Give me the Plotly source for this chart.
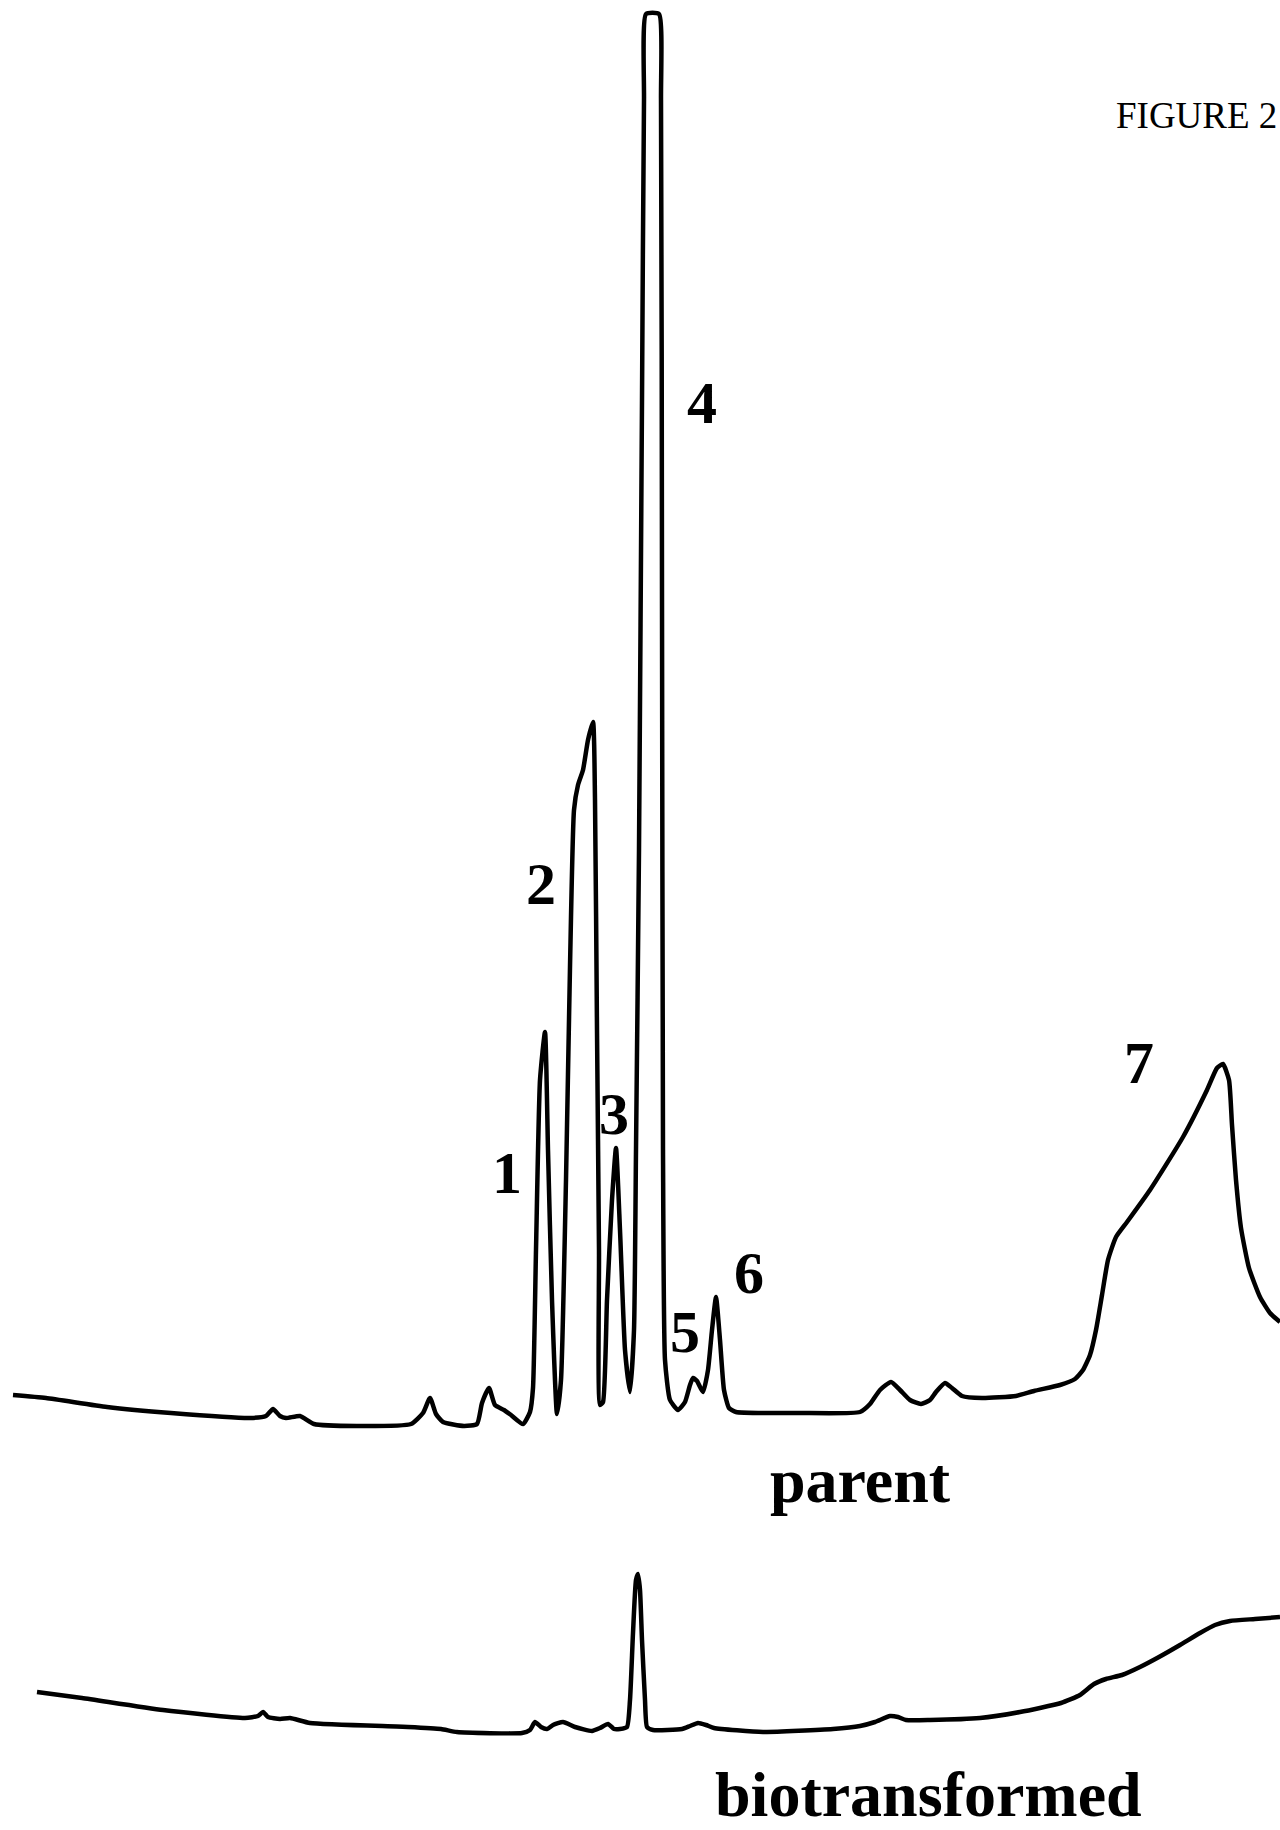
import plotly.graph_objects as go

# Retention time (arbitrary units) and detector response (arbitrary units)
parent_time = [1.3, 4.6, 10.7, 17.1, 25.0, 26.6, 27.3, 28.0, 28.6, 30.0, 31.4, 35.7, 41.1, 42.3, 43.0,
               43.6, 44.3, 46.4, 47.7, 48.2, 48.9, 49.5, 50.4, 51.1, 52.3, 53.0, 53.3, 53.6, 54.0, 54.5,
               54.8, 55.2, 55.7, 56.1, 56.6, 57.0, 57.4, 57.8, 58.3, 58.8, 59.3, 59.5, 59.7, 59.9, 60.0,
               60.3, 60.7, 61.2, 61.6, 62.0, 62.5, 63.0, 63.4, 63.6, 63.9, 64.2, 64.4, 64.6, 65.9, 66.1,
               66.2, 66.3, 66.5, 67.0, 67.8, 68.5, 69.0, 69.3, 69.7, 70.3, 70.8, 71.2, 71.6, 72.0, 72.4,
               72.9, 73.6, 80.0, 86.0, 87.0, 88.0, 89.1, 90.0, 91.0, 92.1, 93.0, 93.6, 94.5, 95.2, 96.2,
               98.2, 101.6, 103.4, 106.0, 107.5, 108.3, 109.0, 109.6, 110.2, 110.8, 111.6, 112.7, 115.0,
               118.3, 120.7, 121.7, 122.3, 122.9, 123.2, 123.6, 124.1, 124.9, 126.0, 127.0, 128.0]
parent_signal = [43.5, 43.2, 42.3, 41.7, 41.2, 41.4, 42.1, 41.4, 41.2, 41.4, 40.6, 40.4, 40.6, 41.7, 43.2,
                 41.6, 40.8, 40.4, 40.6, 42.7, 44.2, 42.5, 42.0, 41.5, 40.6, 41.8, 44.2, 58.0, 75.0, 79.8,
                 68.0, 53.0, 41.6, 45.0, 65.0, 86.3, 102.0, 104.5, 106.0, 109.0, 110.8, 103.0, 80.0, 58.0, 42.5,
                 42.8, 53.0, 63.0, 68.2, 60.0, 48.0, 43.8, 50.0, 68.0, 98.0, 143.0, 173.0, 181.6, 181.6, 173.0,
                 123.0, 68.0, 47.0, 43.0, 42.0, 42.8, 44.5, 45.2, 44.9, 43.8, 46.0, 50.0, 53.3, 49.0, 44.0,
                 42.2, 41.8, 41.7, 41.8, 42.6, 44.0, 44.8, 44.0, 43.0, 42.6, 43.0, 43.8, 44.7, 44.2, 43.4,
                 43.2, 43.4, 43.9, 44.5, 45.1, 46.0, 47.5, 50.0, 53.5, 57.0, 59.3, 60.8, 64.0,
                 69.3, 74.0, 76.2, 76.6, 75.0, 70.5, 65.0, 60.2, 56.2, 53.3, 51.7, 50.8]

bio_time = [3.7, 8.2, 16.3, 24.5, 25.8, 26.3, 26.8, 28.0, 29.0, 31.0, 40.8, 44.1, 45.7, 52.2, 53.0,
            53.5, 54.1, 54.7, 55.3, 56.3, 57.5, 59.2, 60.0, 60.8, 61.4, 62.0, 62.7, 63.0, 63.3, 63.6,
            63.8, 64.0, 64.2, 64.5, 64.7, 65.3, 68.2, 69.0, 69.8, 70.6, 71.4, 76.3, 83.3, 86.0, 87.5,
            89.0, 89.8, 90.6, 93.0, 98.0, 102.0, 106.1, 108.0, 109.4, 110.6, 112.2, 114.0, 115.9, 118.0,
            120.0, 121.5, 123.0, 125.5, 128.0]
bio_signal = [13.8, 13.2, 12.0, 11.2, 11.4, 11.8, 11.3, 11.1, 11.2, 10.7, 10.3, 10.1, 9.8, 9.7, 10.0,
              10.8, 10.3, 10.1, 10.5, 10.8, 10.3, 9.9, 10.2, 10.6, 10.1, 10.1, 10.3, 13.0, 19.7, 25.0,
              25.6, 24.0, 19.0, 13.0, 10.3, 10.0, 10.1, 10.4, 10.7, 10.5, 10.2, 9.8, 10.1, 10.4, 10.8,
              11.4, 11.3, 11.0, 11.0, 11.2, 11.8, 12.7, 13.5, 14.6, 15.1, 15.5, 16.3, 17.3, 18.5,
              19.7, 20.5, 20.9, 21.1, 21.3]

# Peak labels and their positions
peak_labels = ["1", "2", "3", "4", "5", "6", "7"]
peak_label_time = [50.7, 54.1, 61.4, 70.2, 68.5, 74.9, 113.9]
peak_label_signal = [65.7, 94.6, 71.6, 142.7, 49.8, 55.7, 76.7]

trace_names = ["parent", "biotransformed"]
trace_name_time = [86.0, 92.8]
trace_name_signal = [35.0, 3.6]

figure_title = "FIGURE 2"

fig = go.Figure()
fig.add_trace(go.Scatter(x=parent_time, y=parent_signal, mode="lines", name="parent",
                         line=dict(color="black", width=4.5, shape="spline", smoothing=0.5),
                         hoverinfo="skip"))
fig.add_trace(go.Scatter(x=bio_time, y=bio_signal, mode="lines", name="biotransformed",
                         line=dict(color="black", width=4.5, shape="spline", smoothing=0.5),
                         hoverinfo="skip"))

serif = "Liberation Serif, Times New Roman, serif"
for lab, t, s in zip(peak_labels, peak_label_time, peak_label_signal):
    fig.add_annotation(x=t, y=s, text=lab, showarrow=False, xanchor="center", yanchor="middle",
                       font=dict(family=serif, size=60, color="black", weight="bold"))
for lab, t, s in zip(trace_names, trace_name_time, trace_name_signal):
    fig.add_annotation(x=t, y=s, text=lab, showarrow=False, xanchor="center", yanchor="middle",
                       font=dict(family=serif, size=64, color="black", weight="bold"))

fig.add_annotation(x=111.4, y=171.5, text=figure_title, showarrow=False, xanchor="left", yanchor="middle",
                   font=dict(family=serif, size=37, color="black"))

fig.update_layout(
    width=1280, height=1830, autosize=False,
    margin=dict(l=0, r=0, t=0, b=0),
    paper_bgcolor="white", plot_bgcolor="white",
    showlegend=False,
    xaxis=dict(range=[0, 128], visible=False, fixedrange=True),
    yaxis=dict(range=[0, 183], visible=False, fixedrange=True),
)

fig.write_html("out.html", config={"displayModeBar": False})
